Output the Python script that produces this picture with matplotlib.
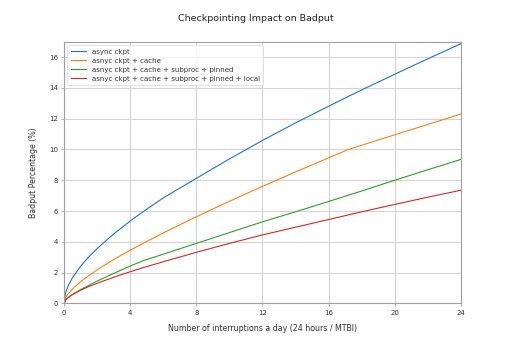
import matplotlib
matplotlib.use("Agg")
import matplotlib.pyplot as plt

interruptions = [0, 0.1, 0.25, 0.5, 1, 1.5, 2, 3, 4, 4.8, 6, 8, 10, 12, 14, 16, 17.2, 18, 20, 22, 24]
async_ckpt = [0, 0.71, 1.14, 1.65, 2.41, 3.03, 3.56, 4.51, 5.35, 5.97, 6.85, 8.12, 9.38, 10.58, 11.72, 12.8, 13.44, 13.86, 14.88, 15.88, 16.86]
cache = [0, 0.38, 0.63, 0.93, 1.41, 1.81, 2.18, 2.85, 3.46, 3.91, 4.58, 5.63, 6.63, 7.6, 8.54, 9.45, 10.0, 10.27, 10.95, 11.62, 12.3]
subproc_pinned = [0, 0.23, 0.38, 0.58, 0.9, 1.18, 1.45, 1.95, 2.43, 2.78, 3.2, 3.9, 4.6, 5.3, 5.95, 6.62, 7.03, 7.3, 8.0, 8.68, 9.35]
local = [0, 0.23, 0.38, 0.57, 0.86, 1.1, 1.31, 1.7, 2.06, 2.33, 2.71, 3.32, 3.9, 4.45, 4.95, 5.45, 5.75, 5.95, 6.43, 6.9, 7.35]

labels = ["async ckpt", "asnyc ckpt + cache", "asnyc ckpt + cache + subproc + pinned",
          "asnyc ckpt + cache + subproc + pinned + local"]
xticks = [0, 4, 8, 12, 16, 20, 24]
yticks = [0, 2, 4, 6, 8, 10, 12, 14, 16]

fig = plt.figure(figsize=(5.12, 3.41), dpi=100)
ax = fig.add_axes([0.125, 0.110, 0.775, 0.768])
for series, lab in zip([async_ckpt, cache, subproc_pinned, local], labels):
    ax.plot(interruptions, series, label=lab, linewidth=0.8)

ax.set_xlim(0, 24)
ax.set_ylim(0, 17)
ax.set_xticks(xticks)
ax.set_yticks(yticks)
ax.grid(True, color="#d4d4d4", linewidth=0.8)
ax.set_axisbelow(True)
for s in ax.spines.values():
    s.set_color("#a0a0a0")
    s.set_linewidth(0.8)
ax.tick_params(axis="both", labelsize=5.0, colors="#a0a0a0", labelcolor="#333333", length=2.5, width=0.6, pad=2)
ax.set_xlabel("Number of interruptions a day (24 hours / MTBI)", fontsize=5.7, color="#333333", labelpad=6)
ax.set_ylabel("Badput Percentage (%)", fontsize=5.7, color="#333333", labelpad=8)
fig.suptitle("Checkpointing Impact on Badput", fontsize=6.8, color="#222222", y=0.96)
leg = ax.legend(loc="upper left", fontsize=5.0, frameon=True, handlelength=2.2, borderpad=0.5,
                labelspacing=0.45, fancybox=True)
leg.get_frame().set_linewidth(0.5)
leg.get_frame().set_edgecolor("#cccccc")
for t in leg.get_texts():
    t.set_color("#333333")

fig.savefig("out.png", dpi=100)
